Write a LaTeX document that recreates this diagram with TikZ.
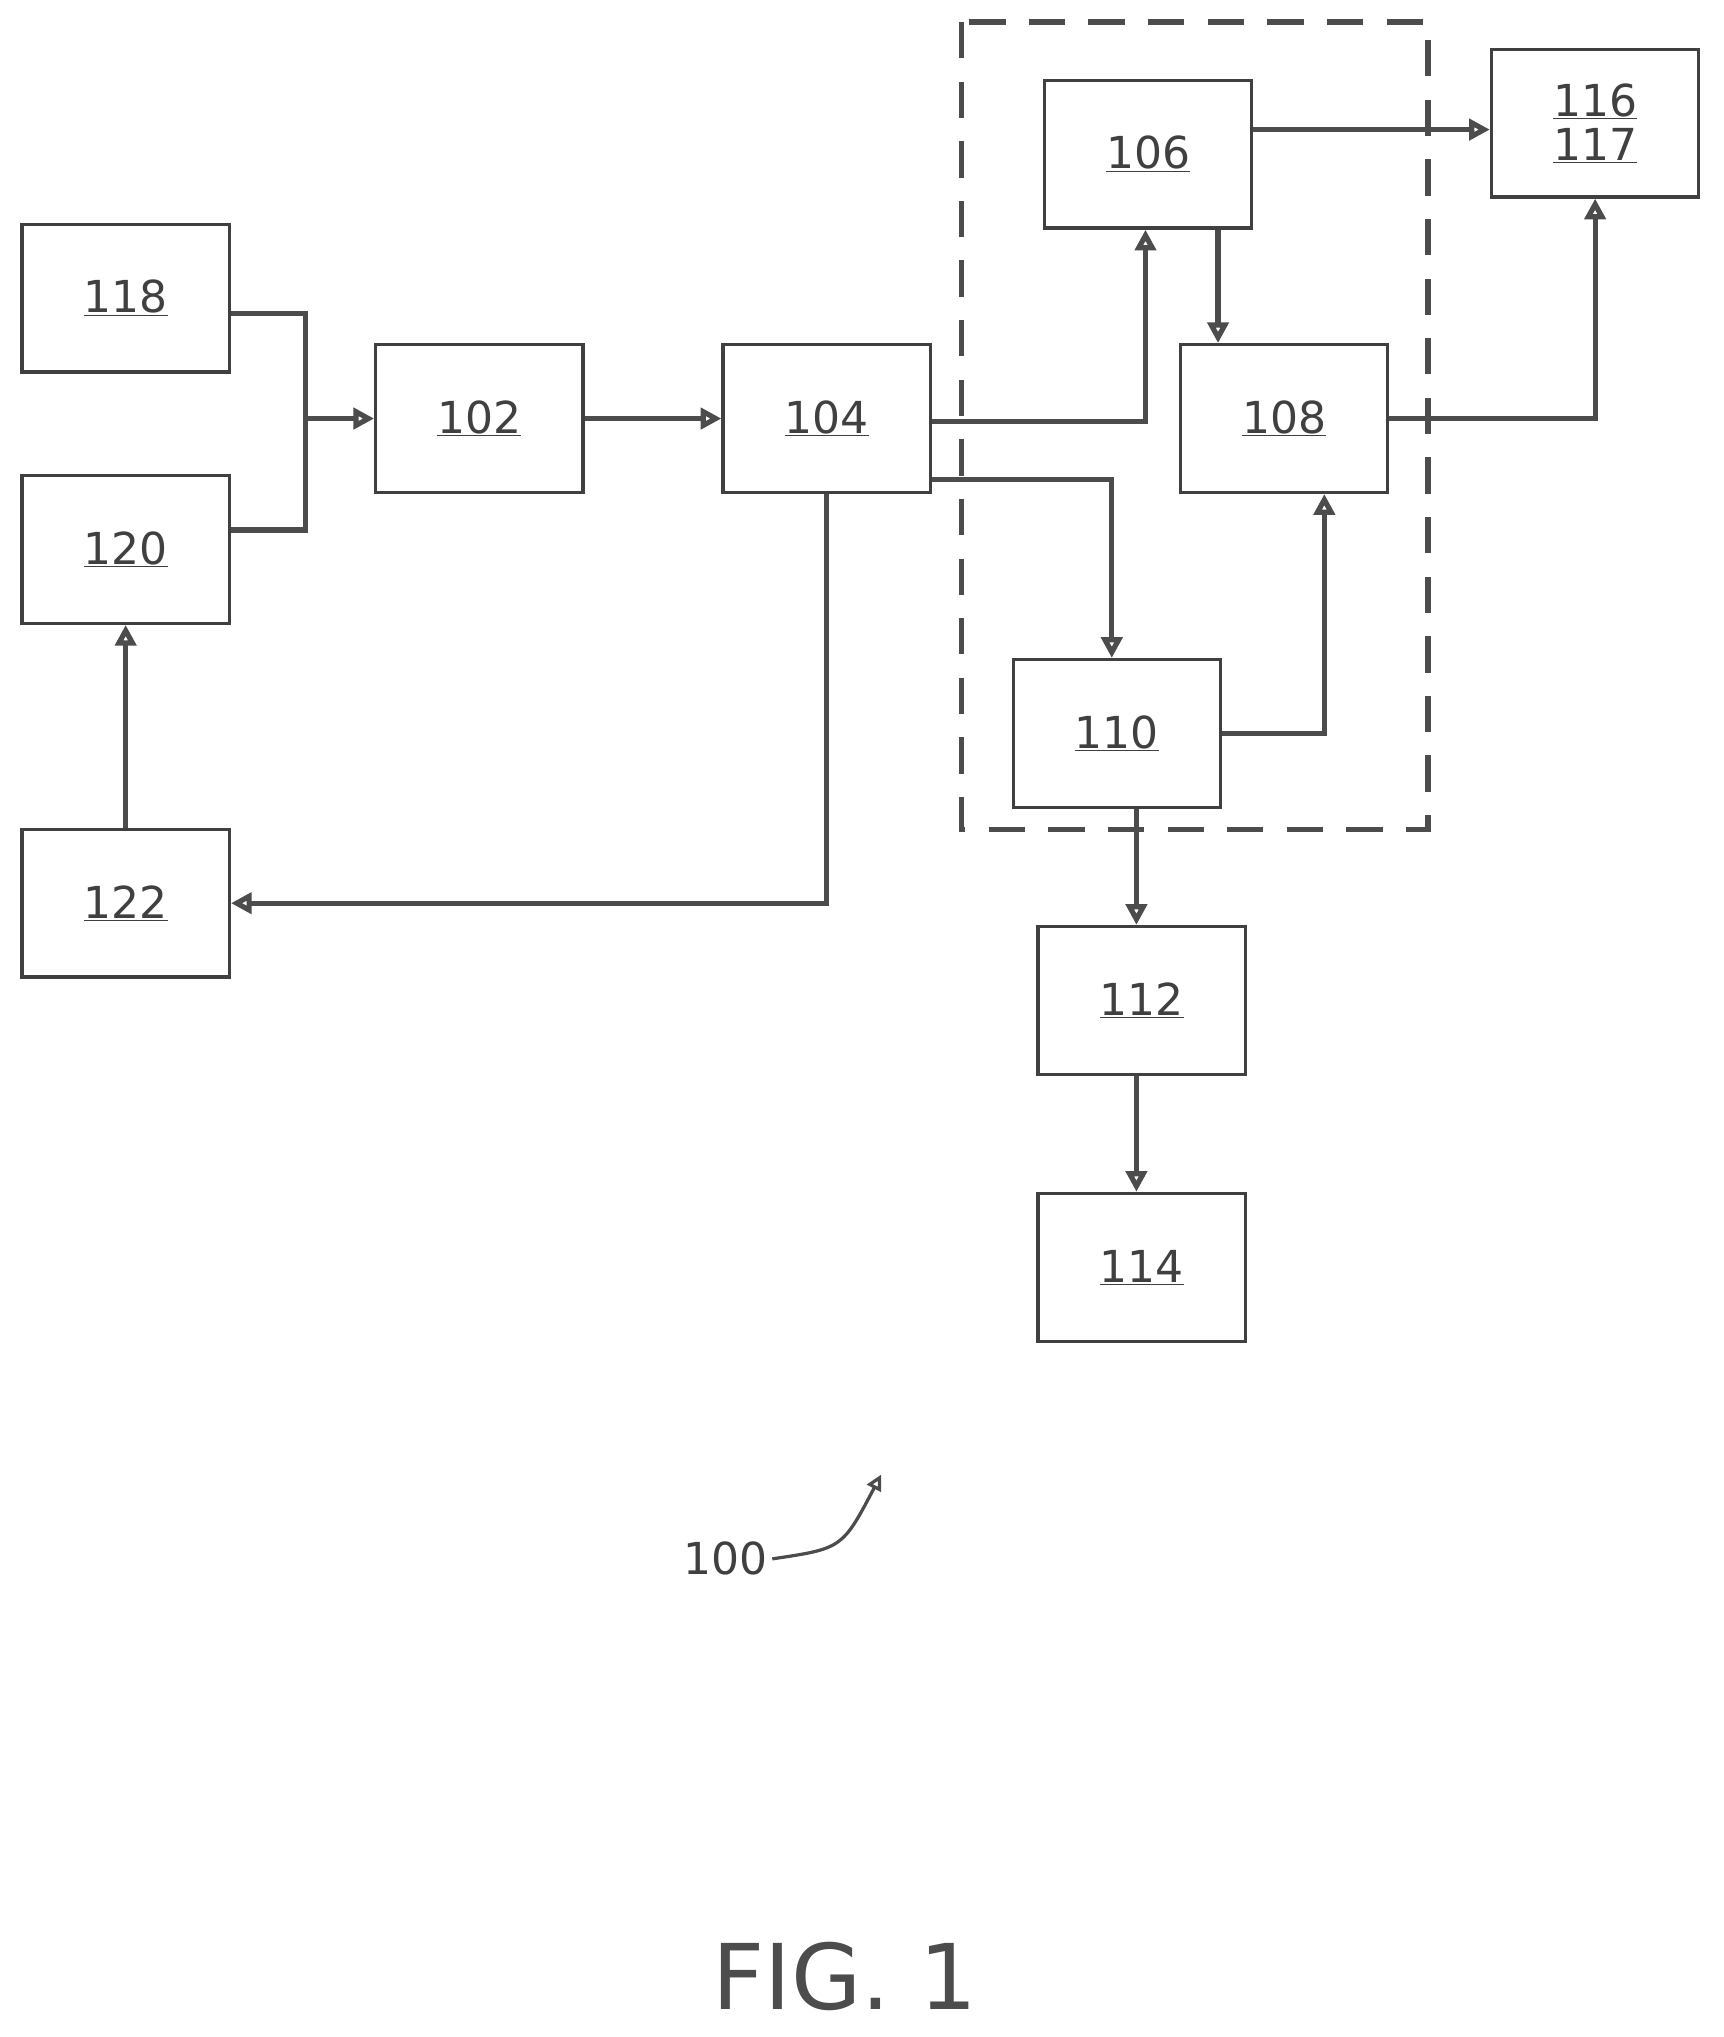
\documentclass[tikz,border=0pt]{standalone}
\usepackage{fontspec}
\setmainfont{DejaVu Sans}
\usetikzlibrary{arrows.meta}
\begin{document}
\begin{tikzpicture}[x=1pt,y=-1pt,
 box/.style={draw=black!75,line width=2.5pt,minimum width=160pt,minimum height=114pt,font=\fontsize{34}{40}\selectfont,text=black!75},
 ar/.style={draw=black!70,line width=4pt,-{Triangle[open,length=16pt,width=16pt]}},
 ln/.style={draw=black!70,line width=4pt}]
\useasboundingbox (0,0) rectangle (1330,1572);
\node[box] (n118) at (97,230) {\underline{118}};
\node[box] (n120) at (97,424) {\underline{120}};
\node[box] (n122) at (97,697) {\underline{122}};
\node[box] (n102) at (370,323) {\underline{102}};
\node[box] (n104) at (638,323) {\underline{104}};
\node[box] (n106) at (886,119) {\underline{106}};
\node[box] (n108) at (991,323) {\underline{108}};
\node[box] (n110) at (862,566) {\underline{110}};
\node[box] (n112) at (881,772) {\underline{112}};
\node[box] (n114) at (881,978) {\underline{114}};
\node[box,align=center,font=\fontsize{34}{38}\selectfont] (n116) at (1231,95) {\underline{116}\\[-4pt]\underline{117}};
\draw[black!70,line width=4pt,dash pattern=on 28pt off 18pt] (742,17) rectangle (1102,640);
\coordinate (j) at (236,323);
\draw[ln] (n118.east |- 0,242) -| (j);
\draw[ln] (n120.east |- 0,409) -| (j);
\draw[ar] (j) -- (n102.west);
\draw[ar] (n102) -- (n104);
\draw[ar] (n104.east |- 0,325) -| (n106.south -| 884,0);
\draw[ar] (n104.east |- 0,370) -| (n110.north -| 858,0);
\draw[ar] (n106.south -| 940,0) -- (n108.north -| 940,0);
\draw[ar] (n106.east |- 0,100) -- (n116.west |- 0,100);
\draw[ar] (n108.east) -| (n116.south);
\draw[ar] (n110.east) -| (n108.south -| 1022,0);
\draw[ar] (n110.south -| 877,0) -- (n112.north -| 877,0);
\draw[ar] (n112.south -| 877,0) -- (n114.north -| 877,0);
\draw[ar] (n104.south) |- (n122.east);
\draw[ar] (n122.north) -- (n120.south);
\node[font=\fontsize{34}{40}\selectfont,text=black!75] (l100) at (560,1203) {100};
\coordinate (t100) at (680,1138);
\draw[black!70,line width=2.5pt,-{Triangle[open,length=12pt,width=12pt]}] (l100.east) .. controls (650,1195) .. (t100);
\node[font=\fontsize{70}{80}\selectfont,text=black!70] (fig) at (652,1525) {FIG. 1};
\end{tikzpicture}
\end{document}
